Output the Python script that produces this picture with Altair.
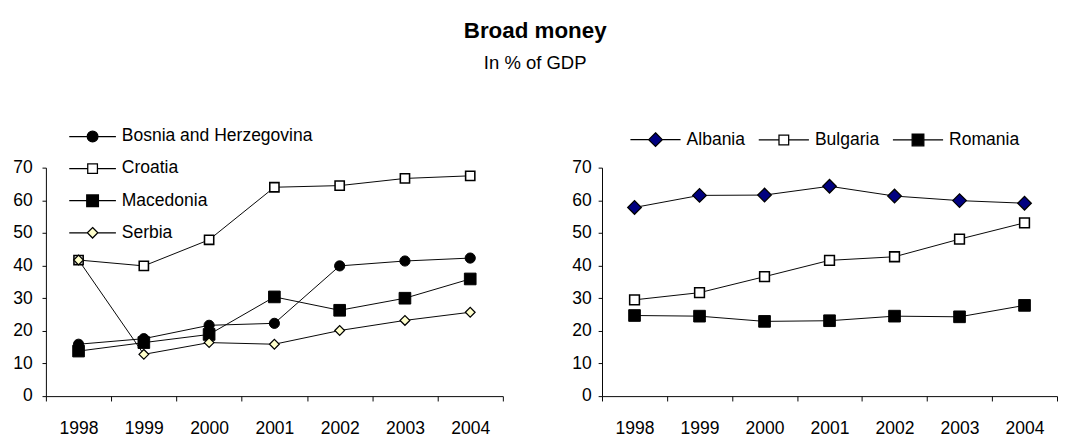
import altair as alt
import pandas as pd

years = ["1998", "1999", "2000", "2001", "2002", "2003", "2004"]

# Left panel
left_series = ["Bosnia and Herzegovina", "Croatia", "Macedonia", "Serbia"]
bosnia = [15.9, 17.6, 21.7, 22.3, 39.9, 41.4, 42.3]
croatia = [41.7, 39.9, 47.9, 64.0, 64.5, 66.7, 67.5]
macedonia = [13.8, 16.4, 18.9, 30.4, 26.3, 30.0, 35.9]
serbia = [41.7, 12.8, 16.4, 15.9, 20.1, 23.2, 25.7]

# Right panel
right_series = ["Albania", "Bulgaria", "Romania"]
albania = [57.8, 61.5, 61.6, 64.3, 61.3, 59.9, 59.1]
bulgaria = [29.5, 31.7, 36.6, 41.6, 42.7, 48.1, 53.1]
romania = [24.7, 24.5, 22.9, 23.1, 24.5, 24.3, 27.8]

y_ticks = [0, 10, 20, 30, 40, 50, 60, 70]

FONT = "Liberation Sans"

# marker styles: (vega shape, size, fill, strokeWidth, legend kind, legend half-size)
styles = {
    "Bosnia and Herzegovina": ("circle", 110, "black", 1.0, "circle", 0.92),
    "Croatia": ("square", 90, "white", 1.6, "square", 0.83),
    "Macedonia": ("square", 144, "black", 1.0, "square", 1.0),
    "Serbia": ("diamond", 100, "#FFFFCC", 1.3, "diamond", 0.9),
    "Albania": ("diamond", 196, "#000080", 1.3, "diamond", 1.17),
    "Bulgaria": ("square", 100, "white", 1.6, "square", 0.83),
    "Romania": ("square", 144, "black", 1.0, "square", 1.0),
}


def legend_path(kind, r, half):
    line = f"M{-half},0H{-r}M{r},0H{half}"
    if kind == "circle":
        m = f"M{-r},0A{r},{r},0,1,1,{r},0A{r},{r},0,1,1,{-r},0Z"
    elif kind == "square":
        m = f"M{-r},{-r}H{r}V{r}H{-r}Z"
    else:
        m = f"M0,{-r}L{r},0L0,{r}L{-r},0Z"
    return line + m


def make_df(names, values):
    rows = []
    for name, vals in zip(names, values):
        shp, size, fill, sw, _, _ = styles[name]
        for yr, v in zip(years, vals):
            rows.append({"year": yr, "value": v, "series": name, "shape": shp,
                         "size": size, "fill": fill, "sw": sw})
    return pd.DataFrame(rows)


def panel(names, values, width, height, legend_kw, y_label_pad):
    df = make_df(names, values)
    x = alt.X("year:O", sort=years, bandPosition=0.5,
              scale=alt.Scale(type="band", paddingInner=0, paddingOuter=0),
              axis=alt.Axis(title=None, labelAngle=0, tickBand="extent", grid=False,
                            tickSize=5, labelPadding=19, labelFontSize=18, labelFont=FONT,
                            labelColor="black", domainColor="black", tickColor="black"))
    y = alt.Y("value:Q", scale=alt.Scale(domain=[0, 70], nice=False, zero=True),
              axis=alt.Axis(title=None, values=y_ticks, grid=False, tickSize=4,
                            labelPadding=y_label_pad, labelFontSize=18, labelFont=FONT,
                            labelColor="black", domainColor="black", tickColor="black"))
    base = alt.Chart(df)
    lines = base.mark_line(color="black", strokeWidth=1).encode(
        x=x, y=y, detail="series:N")
    points = base.mark_point(filled=True, stroke="black", opacity=1).encode(
        x=x, y=y,
        shape=alt.Shape("shape:N", scale=None),
        fill=alt.Fill("fill:N", scale=None),
        size=alt.Size("size:Q", scale=None),
        strokeWidth=alt.StrokeWidth("sw:Q", scale=None),
        order=alt.Order("series:N"),
    )
    half = legend_kw.pop("half")
    paths = [legend_path(styles[n][4], styles[n][5], half) for n in names]
    fills = [styles[n][2] for n in names]
    leg = alt.Legend(title=None, orient="none", symbolSize=144,
                     symbolStrokeColor="black", symbolStrokeWidth=1.3, symbolOpacity=1,
                     labelFontSize=18, labelFont=FONT, labelColor="black", labelLimit=500,
                     padding=0, **legend_kw)
    legend_layer = base.mark_point(filled=True, opacity=0).encode(
        x=x, y=y,
        shape=alt.Shape("series:N", sort=names,
                        scale=alt.Scale(domain=names, range=paths), legend=leg),
        fill=alt.Fill("series:N", sort=names,
                      scale=alt.Scale(domain=names, range=fills), legend=leg),
    )
    return alt.layer(lines, points, legend_layer).properties(width=width, height=height)


left = panel(left_series, [bosnia, croatia, macedonia, serbia], 470, 235,
             dict(half=4.0, legendX=39, legendY=-41, direction="vertical", columns=1,
                  rowPadding=15, labelOffset=21), 10)
right = panel(right_series, [albania, bulgaria, romania], 468, 235,
              dict(half=4.3, legendX=46, legendY=-38, direction="horizontal", columns=3,
                   columnPadding=10, labelOffset=23), 7)

chart = alt.hconcat(left, right, spacing=69).resolve_scale(
    shape="independent", fill="independent", x="independent", y="independent"
).resolve_legend(
    shape="independent", fill="independent"
).properties(
    title=alt.TitleParams("Broad money", subtitle="In % of GDP", anchor="middle",
                          font=FONT, fontSize=23, fontWeight="bold", color="black",
                          subtitleFont=FONT, subtitleFontSize=19, subtitleColor="black",
                          subtitlePadding=12, offset=56),
    padding={"top": 7, "left": 4, "right": 0, "bottom": 0},
).configure_view(stroke=None)

chart.save("out.html", embed_options={"renderer": "svg", "actions": False})
